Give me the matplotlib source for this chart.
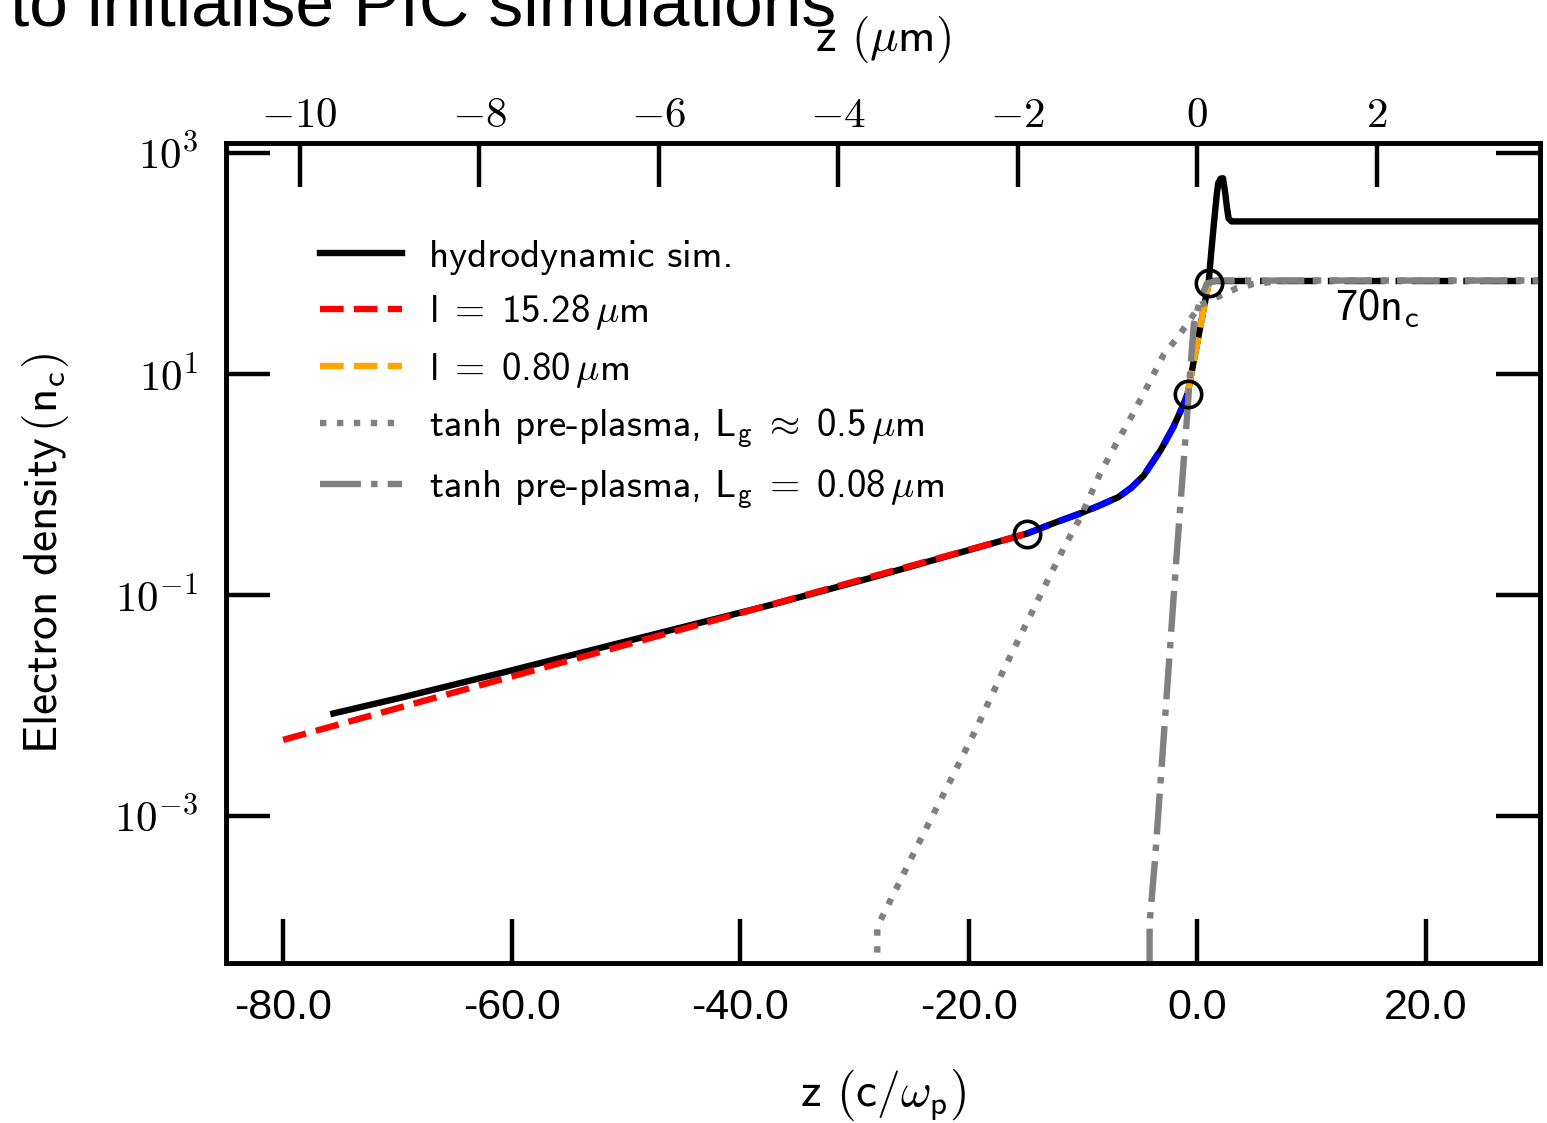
import numpy as np
import matplotlib
matplotlib.use('Agg')
import matplotlib.pyplot as plt
from matplotlib.ticker import FixedLocator, FixedFormatter, NullLocator

plt.rcParams['mathtext.fontset'] = 'cm'
plt.rcParams['axes.unicode_minus'] = False

SANS = 'cmss10'
NARROW = ['Liberation Sans', 'DejaVu Sans']

# ---- data: z in c/omega_p, density in n_c ----
hydro_z = [-75.6, -69.4, -60.7, -51.9, -37.4, -28.9, -14.9, -12.5, -10.2, -8.5,
           -6.9, -5.8, -4.7, -3.9, -3.2, -2.1, -1.2, -0.85, 1.0, 1.14, 1.43,
           1.72, 1.84, 2.05, 2.25, 2.45, 2.6, 2.74, 3.0, 30.0]
hydro_n = [0.0085, 0.012, 0.020, 0.034, 0.081, 0.14, 0.36, 0.45, 0.55, 0.65,
           0.77, 0.93, 1.2, 1.6, 2.05, 3.3, 5.3, 6.6, 67, 101, 215,
           432, 535, 585, 590, 432, 320, 256, 240, 240]

red_z = [-80.0, -14.9]
red_n = [0.0049, 0.36]

blue_z = [-14.9, -12.5, -10.2, -8.5, -6.9, -5.8, -4.7, -3.9, -3.2, -2.1, -1.2, -0.85]
blue_n = [0.36, 0.45, 0.55, 0.65, 0.77, 0.93, 1.2, 1.6, 2.05, 3.3, 5.3, 6.6]

orange_z = [-0.85, 1.0]
orange_n = [6.6, 67]

knots_z = [-14.9, -0.85, 1.0]
knots_n = [0.36, 6.6, 67]

tanh1_z = [-28.0, -28.0, -27.3, -26.0, -24.7, -22.05, -19.4, -16.95, -14.3,
           -11.7, -10.2, -8.5, -7.0, -5.6, -4.3, -2.95, -1.9, -1.05, 0.26,
           2.16, 3.47, 4.93, 6.68, 8.1, 30.0]
tanh1_n = [1e-5, 1.0e-4, 1.4e-4, 2.6e-4, 4.9e-4, 1.7e-3, 6.0e-3, 0.021, 0.076,
           0.265, 0.51, 1.26, 2.44, 4.41, 7.95, 14.9, 20.3, 26.8, 42.1,
           51.9, 59.7, 65.2, 68.4, 70, 70]

tanh2_z = [-4.17, -4.17, -3.67, -1.78, -0.9, -0.61, -0.3, 0.26, 0.85, 1.7, 30.0]
tanh2_n = [1e-5, 1.07e-4, 4.4e-4, 0.25, 4.0, 10.9, 28, 46.8, 66, 70, 70]

plateau_z = [1.0, 30.0]
plateau_n = [70, 70]

z_ticks = [-80, -60, -40, -20, 0, 20]
z_ticklabels = ['-80.0', '-60.0', '-40.0', '-20.0', '0.0', '20.0']
um_ticks = [-10, -8, -6, -4, -2, 0, 2]
um_ticklabels = [r'$-10$', r'$-8$', r'$-6$', r'$-4$', r'$-2$', r'$0$', r'$2$']
n_ticks = [1e-3, 1e-1, 1e1, 1e3]
n_ticklabels = [r'$10^{-3}$', r'$10^{-1}$', r'$10^{1}$', r'$10^{3}$']

um_per_unit = 0.8 / (2 * np.pi)
zlim = (-85, 30)
nlim = (4.7e-5, 1230)

lw = 4.6

fig = plt.figure(figsize=(15.47, 11.23), dpi=100)
ax = fig.add_axes([0.1461, 0.1425, 0.8494, 0.7302])

ax.plot(plateau_z, plateau_n, color='black', lw=lw, ls='-.', zorder=1.5)
ax.plot(hydro_z, hydro_n, color='black', lw=lw, label='hydrodynamic sim.', zorder=2)
ax.plot(red_z, red_n, color='red', lw=lw, ls='--',
        label=r'l$\;=\;$15.28$\,\mu$m', zorder=3)
ax.plot(orange_z, orange_n, color='orange', lw=lw, ls='--',
        label=r'l$\;=\;$0.80$\,\mu$m', zorder=3)
ax.plot(blue_z, blue_n, color='blue', lw=lw, ls='--', zorder=3)
ax.plot(tanh1_z, tanh1_n, color='gray', lw=lw, ls=':',
        label=r'tanh pre-plasma, L$_\mathsf{g}\;\approx\;$0.5$\,\mu$m', zorder=4)
ax.plot(tanh2_z, tanh2_n, color='gray', lw=lw, ls='-.',
        label=r'tanh pre-plasma, L$_\mathsf{g}\;=\;$0.08$\,\mu$m', zorder=4)
ax.plot(knots_z, knots_n, 'o', mfc='none', mec='black', ms=19, mew=2.6, zorder=5)

ax.text(15.75, 40, r'70n$_\mathsf{c}$', family=SANS, fontsize=32,
        ha='center', va='center')

ax.set_yscale('log')
ax.set_xlim(zlim)
ax.set_ylim(nlim)

ax.xaxis.set_major_locator(FixedLocator(z_ticks))
ax.xaxis.set_major_formatter(FixedFormatter(z_ticklabels))
ax.yaxis.set_major_locator(FixedLocator(n_ticks))
ax.yaxis.set_major_formatter(FixedFormatter(n_ticklabels))
ax.yaxis.set_minor_locator(NullLocator())
ax.xaxis.set_minor_locator(NullLocator())

ax.tick_params(axis='x', direction='in', length=32, width=3.2, pad=18,
               labelsize=31, bottom=True, top=False)
ax.tick_params(axis='y', direction='in', length=32, width=3.2, pad=20,
               labelsize=31, left=True, right=True)
for lab in ax.get_xticklabels():
    lab.set_family(NARROW)
for s in ax.spines.values():
    s.set_linewidth(3.3)

ax.set_xlabel(r'z $\left(\mathsf{c}/\omega_\mathsf{p}\right)$', family=SANS,
              fontsize=34, labelpad=28)
ax.set_ylabel(r'Electron density$\,(\mathsf{n_c})$', family=SANS,
              fontsize=34, labelpad=31)

ax2 = ax.twiny()
ax2.set_xlim(zlim[0] * um_per_unit, zlim[1] * um_per_unit)
ax2.xaxis.set_major_locator(FixedLocator(um_ticks))
ax2.xaxis.set_major_formatter(FixedFormatter(um_ticklabels))
ax2.xaxis.set_minor_locator(NullLocator())
ax2.tick_params(axis='x', direction='in', length=32, width=3.2, pad=5,
                labelsize=31, top=True, bottom=False)
for s in ax2.spines.values():
    s.set_linewidth(3.3)
ax2.set_xlabel(r'z $(\mu\mathsf{m})$', family=SANS, fontsize=34, labelpad=31)

ax.legend(loc='upper left', bbox_to_anchor=(0.060, 0.901), borderaxespad=0,
          frameon=False, prop={'family': SANS, 'size': 28},
          handlelength=2.1, handletextpad=0.7, labelspacing=0.45)

fig.text(10 / 1547, 1 - 26 / 1123, 'to initialise PIC simulations',
         family=NARROW, fontsize=50, ha='left', va='baseline')

fig.savefig('out.png', dpi=100)
